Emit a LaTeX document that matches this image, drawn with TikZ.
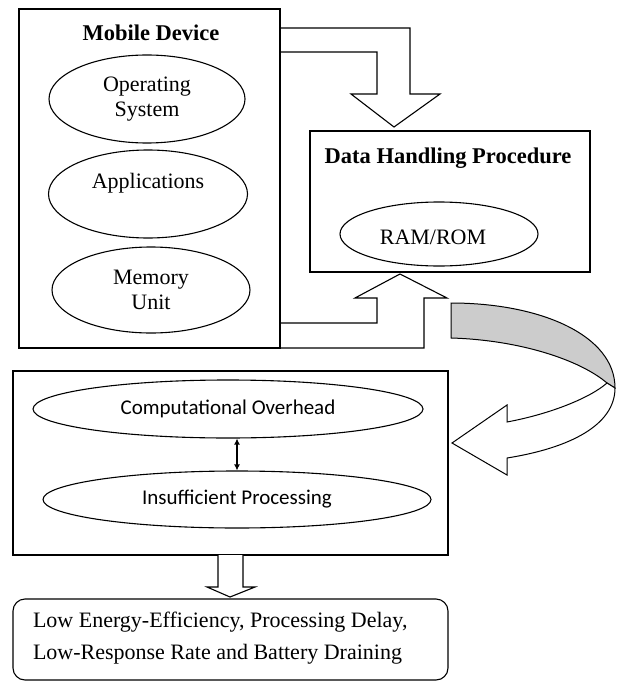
\documentclass[tikz,border=0pt]{standalone}
\usepackage{fontspec}
\setmainfont{Liberation Serif}
\newfontfamily\calfont{Carlito}
\usetikzlibrary{shapes.geometric,arrows.meta}
\begin{document}
\begin{tikzpicture}[x=1pt,y=-1pt,line width=1.1pt,line join=miter,
  box/.style={draw,rectangle,inner sep=0pt},
  ell/.style={draw,ellipse,inner sep=0pt,align=center,font=\fontsize{22}{25}\selectfont},
  cell/.style={draw,ellipse,inner sep=0pt,font=\calfont\fontsize{21}{24}\selectfont},
  ttl/.style={font=\bfseries\fontsize{22.5}{25}\selectfont,inner sep=0pt},
  blockarrow/.style={draw,fill=white,line width=1.1pt},
  dblarrow/.style={{Latex[length=6pt,width=6pt]}-{Latex[length=6pt,width=6pt]},line width=1.3pt}]
\useasboundingbox (0,0) rectangle (619,682);

% block arrows between mobile device and data handling
\draw[blockarrow] (280,28) -- (410,28) -- (410,94) -- (440,94) -- (394,127) -- (351,94) -- (377,94) -- (377,52) -- (280,52);
\draw[blockarrow] (280,348) -- (424,348) -- (424,298) -- (447,298) -- (400,274) -- (355,298) -- (377,298) -- (377,323) -- (280,323);

% mobile device
\node[box,minimum width=261pt,minimum height=339pt] (mob) at (149.5,178.5) {};
\node[ttl] (mobt) at (151,33) {Mobile Device};
\node[ell,minimum width=196pt,minimum height=88pt] (os) at (147,99) {Operating\\System};
\node[ell,minimum width=199pt,minimum height=88pt,label={[yshift=11pt,font=\fontsize{22}{25}\selectfont]center:Applications}] (app) at (148,194) {};
\node[ell,minimum width=198pt,minimum height=86pt] (mem) at (151,290) {Memory\\Unit};

% data handling
\node[box,minimum width=280pt,minimum height=141pt] (dhp) at (450,201.5) {};
\node[ttl] (dhpt) at (448,158) {Data Handling Procedure};
\node[ell,minimum width=198pt,minimum height=64pt,label={[xshift=-6pt,yshift=-3pt,font=\fontsize{22}{25}\selectfont]center:RAM/ROM}] (ram) at (439,234) {};

% curved arrow
\draw[fill=black!20,line width=1pt] (451,303) .. controls (540,303) and (615,335) .. (615,388) -- (607,383) .. controls (580,360) and (520,340) .. (451,338) -- cycle;
\draw[fill=white,line width=1pt] (607,383) .. controls (590,398) and (550,414) .. (507,422) -- (507,405) -- (452,443) -- (507,475) -- (507,458) .. controls (570,448) and (615,425) .. (615,388) -- cycle;

% middle box
\node[box,minimum width=435pt,minimum height=184pt] (mid) at (230.5,463) {};
\node[cell,minimum width=390pt,minimum height=58pt] (co) at (228,409) {Computational Overhead};
\node[cell,minimum width=388pt,minimum height=57pt] (ip) at (237,499.5) {Insufficient Processing};
\draw[dblarrow] (ip.north |- co.south) -- (ip.north);

% down arrow
\draw[blockarrow] (218,555) -- (218,587) -- (207,587) -- (230,597) -- (255,587) -- (243,587) -- (243,555);

% result box
\node[box,rounded corners=12pt,minimum width=435pt,minimum height=81pt] (res) at (230.5,639.5) {};
\node[anchor=west,align=left,inner sep=0pt,font=\fontsize{22}{32}\selectfont] (rest) at ([xshift=20pt,yshift=1pt]res.west) {Low Energy-Efficiency, Processing Delay,\\Low-Response Rate and Battery Draining};
\end{tikzpicture}
\end{document}
